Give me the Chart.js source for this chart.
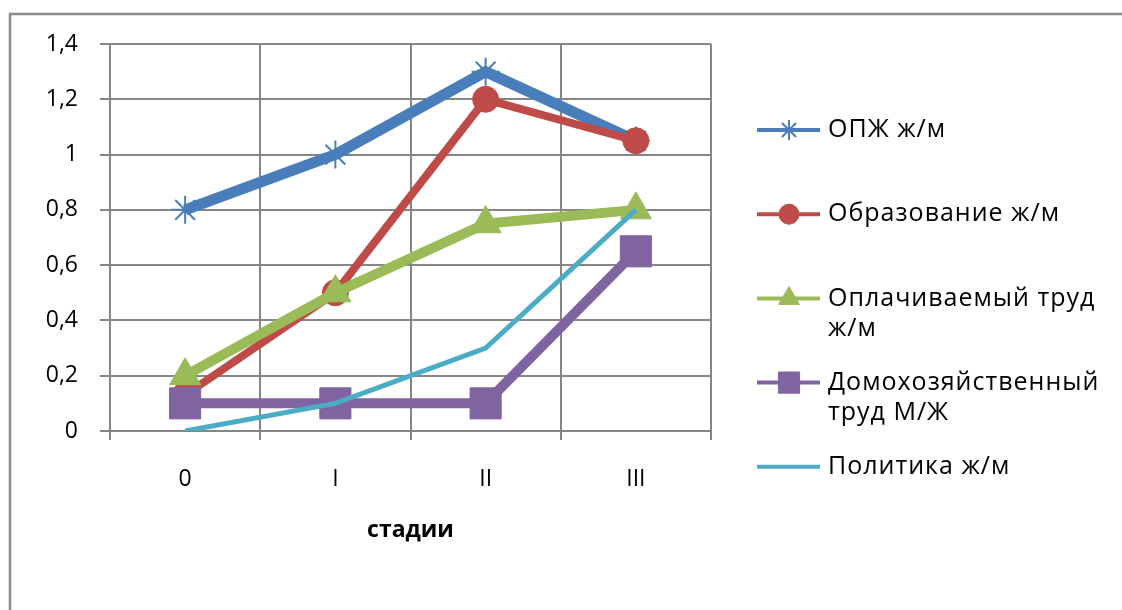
<!DOCTYPE html>
<html>
<head>
<meta charset="utf-8">
<script src="https://cdn.jsdelivr.net/npm/chart.js@4.4.0/dist/chart.umd.min.js"></script>
<style>
  html, body { margin: 0; padding: 0; background: #fff; }
  #wrap { position: relative; width: 1122px; height: 610px; }
</style>
</head>
<body>
<div id="wrap"><canvas id="chart"></canvas></div>
<script>
// данные диаграммы
const stages = ['0', 'I', 'II', 'III'];
const seriesNames = ['ОПЖ ж/м', 'Образование ж/м', 'Оплачиваемый труд\nж/м', 'Домохозяйственный\nтруд М/Ж', 'Политика ж/м'];
const opzh = [0.8, 1.0, 1.3, 1.05];
const education = [0.13, 0.5, 1.2, 1.05];
const paidWork = [0.2, 0.5, 0.75, 0.8];
const houseWork = [0.1, 0.1, 0.1, 0.65];
const politics = [0, 0.1, 0.3, 0.8];
const yMax = 1.4;
const yStep = 0.2;
const axisTitle = 'стадии';

const FONT = '"Open Sans", "Noto Sans", sans-serif';
const GRID = '#868686';

const styles = [
    { color: '#4A7EBB', width: 11, point: 'star', radius: 14, lgRadius: 10 },
    { color: '#BE4B48', width: 8, point: 'circle', radius: 13, lgRadius: 10 },
    { color: '#9BBB59', width: 10, point: 'triangle', radius: 18, lgRadius: 12 },
    { color: '#8064A2', width: 10, point: 'rect', radius: 22, lgRadius: 15 },
    { color: '#4BACC6', width: 5, point: false, radius: 0, lgRadius: 0 }
];
const values = [opzh, education, paidWork, houseWork, politics];

// рамка вокруг диаграммы
const framePlugin = {
    id: 'frame',
    beforeDraw(chart) {
        const ctx = chart.ctx;
        ctx.save();
        ctx.strokeStyle = '#8c8c8c';
        ctx.lineWidth = 2.5;
        ctx.strokeRect(10, 14, 1300, 800);
        ctx.restore();
    }
};

// легенда справа
const legendPlugin = {
    id: 'sideLegend',
    afterDraw(chart) {
        const ctx = chart.ctx;
        ctx.save();
        ctx.font = '25px ' + FONT;
        ctx.letterSpacing = '1px';
        ctx.textBaseline = 'middle';
        ctx.textAlign = 'left';
        seriesNames.forEach((name, i) => {
            const st = styles[i];
            const y = 130 + i * 84.2;
            ctx.strokeStyle = st.color;
            ctx.fillStyle = st.color;
            ctx.lineWidth = 4;
            ctx.beginPath();
            ctx.moveTo(757, y);
            ctx.lineTo(820, y);
            ctx.stroke();
            if (st.point) {
                ctx.lineWidth = st.point === 'star' ? 2 : 1;
                Chart.helpers.drawPoint(ctx, {
                    pointStyle: st.point, radius: st.lgRadius, rotation: 0, borderWidth: ctx.lineWidth
                }, 789, y);
            }
            ctx.fillStyle = '#000';
            name.split('\n').forEach((line, k) => {
                ctx.fillText(line, 828, y + k * 30);
            });
        });
        ctx.restore();
    }
};

const datasets = seriesNames.map((name, i) => ({
    label: name.replace('\n', ' '),
    data: values[i],
    borderColor: styles[i].color,
    backgroundColor: styles[i].color,
    borderWidth: styles[i].width,
    pointStyle: styles[i].point,
    pointRadius: styles[i].radius,
    pointBorderWidth: styles[i].point === 'star' ? 2 : 1,
    pointBorderColor: styles[i].color,
    pointBackgroundColor: styles[i].color,
    tension: 0,
    order: seriesNames.length - i
}));

new Chart(document.getElementById('chart'), {
    type: 'line',
    data: { labels: stages, datasets: datasets },
    options: {
        responsive: true,
        maintainAspectRatio: false,
        animation: false,
        layout: { padding: { top: 44, right: 411, left: 0, bottom: 0 } },
        plugins: {
            legend: { display: false },
            tooltip: { enabled: false }
        },
        scales: {
            x: {
                offset: true,
                grid: { offset: true, color: GRID, lineWidth: 2, tickLength: 9 },
                border: { color: GRID, width: 2 },
                ticks: { color: '#000', font: { family: FONT, size: 23 }, padding: 26 },
                title: {
                    display: true,
                    text: axisTitle,
                    color: '#000',
                    font: { family: FONT, size: 23, weight: 'bold' },
                    padding: { top: 0, bottom: 66 }
                },
                afterFit: s => { s.height = 179; }
            },
            y: {
                min: 0,
                max: yMax,
                grid: { color: GRID, lineWidth: 2, tickLength: 10 },
                border: { color: GRID, width: 2 },
                ticks: {
                    stepSize: yStep,
                    color: '#000',
                    padding: 22,
                    font: { family: FONT, size: 23 },
                    callback: v => (Math.round(v * 10) / 10).toString().replace('.', ',')
                },
                afterFit: s => { s.width = 110; }
            }
        }
    },
    plugins: [framePlugin, legendPlugin]
});
</script>
</body>
</html>
